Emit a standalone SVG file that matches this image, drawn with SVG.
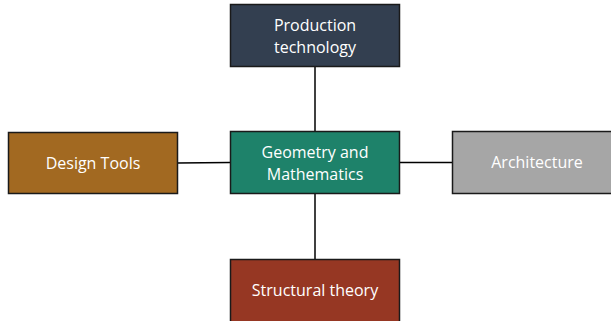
<svg xmlns="http://www.w3.org/2000/svg" width="611" height="321" viewBox="0 0 611 321">
<style>
.box{stroke:#1a1a1a;stroke-width:1.5}
.lbl{font-family:"Open Sans","Liberation Sans",sans-serif;font-size:16px;fill:#ffffff;text-anchor:middle}
.conn{stroke:#000;stroke-width:1.5;fill:none}
</style>
<rect width="611" height="321" fill="#ffffff"/>
<g id="connectors">
<line class="conn" x1="315" y1="67" x2="315" y2="131"/>
<line class="conn" x1="315" y1="194" x2="315" y2="259"/>
<line class="conn" x1="177" y1="163" x2="230" y2="162.5"/>
<line class="conn" x1="400" y1="162.5" x2="452" y2="162.5"/>
</g>
<g id="production">
<rect class="box" x="230.5" y="4.5" width="169" height="62" fill="#333F50"/>
<text class="lbl" x="315" y="31">Production</text>
<text class="lbl" x="315" y="53">technology</text>
</g>
<g id="geometry">
<rect class="box" x="230.5" y="131.5" width="169" height="62" fill="#1E826A"/>
<text class="lbl" x="315" y="158">Geometry and</text>
<text class="lbl" x="315" y="180">Mathematics</text>
</g>
<g id="design">
<rect class="box" x="8.5" y="132.5" width="169" height="61" fill="#A26921"/>
<text class="lbl" x="93" y="169">Design Tools</text>
</g>
<g id="architecture">
<rect class="box" x="452.5" y="131.5" width="170" height="62" fill="#A6A6A6"/>
<text class="lbl" x="537" y="168">Architecture</text>
</g>
<g id="structural">
<rect class="box" x="230.5" y="259.5" width="169" height="63" fill="#963723"/>
<text class="lbl" x="315" y="296">Structural theory</text>
</g>
</svg>
